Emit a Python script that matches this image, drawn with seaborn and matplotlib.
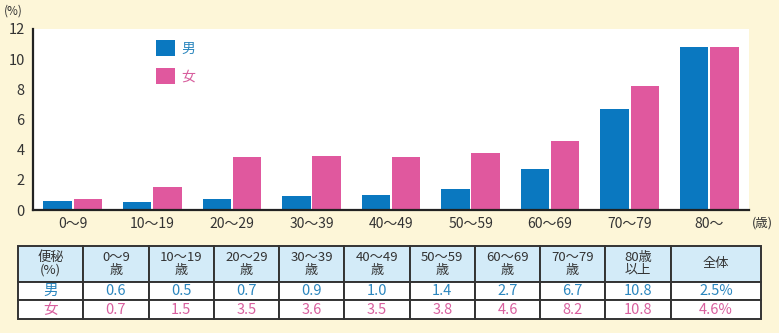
import matplotlib
matplotlib.use("Agg")
import matplotlib.pyplot as plt
import seaborn as sns
import pandas as pd

# ---- data ----
age_groups = ["0～9", "10～19", "20～29", "30～39", "40～49", "50～59", "60～69", "70～79", "80～"]
male = [0.6, 0.5, 0.7, 0.9, 1.0, 1.4, 2.7, 6.7, 10.8]
female = [0.7, 1.5, 3.5, 3.6, 3.5, 3.8, 4.6, 8.2, 10.8]
overall = ["2.5%", "4.6%"]
table_headers = ["便秘\n(%)", "0～9\n歳", "10～19\n歳", "20～29\n歳", "30～39\n歳", "40～49\n歳",
                 "50～59\n歳", "60～69\n歳", "70～79\n歳", "80歳\n以上", "全体"]
series_names = ["男", "女"]
yticks = [0, 2, 4, 6, 8, 10, 12]

BLUE = "#0a78c0"
PINK = "#e0589e"
BLUE_TXT = "#2b86be"
PINK_TXT = "#d85f9e"
BG = "#fdf6d8"
HEAD_BG = "#d3ebf8"

sns.set_theme(style="white")
plt.rcParams["font.family"] = ["Noto Sans CJK JP", "DejaVu Sans"]

df = pd.DataFrame({
    "age": age_groups * 2,
    "value": male + female,
    "sex": [series_names[0]] * len(male) + [series_names[1]] * len(female),
})

fig = plt.figure(figsize=(7.79, 3.33), dpi=100)
fig.patch.set_facecolor(BG)
ax = fig.add_axes([33 / 779, 1 - 210 / 333, (749 - 33) / 779, (210 - 29) / 333])
ax.set_facecolor("white")

sns.barplot(data=df, x="age", y="value", hue="sex", order=age_groups, hue_order=series_names,
            palette=[BLUE, PINK], saturation=1, width=0.76, gap=0.06, linewidth=0, ax=ax)

ax.set_ylim(0, 12)
ax.set_xlim(-0.5, 8.5)
ax.set_yticks(yticks)
ax.set_xlabel("")
ax.set_ylabel("")
for s in ["top", "right"]:
    ax.spines[s].set_visible(False)
for s in ["left", "bottom"]:
    ax.spines[s].set_color("#222222")
    ax.spines[s].set_linewidth(1.6)
ax.tick_params(axis="y", direction="in", length=4, width=1.4, color="#222222",
               labelsize=10.5, labelcolor="#333333", pad=6)
ax.tick_params(axis="x", which="major", length=0, labelsize=10, labelcolor="#333333", pad=5)
ax.set_xticks([i + 0.5 for i in range(len(age_groups))], minor=True)
ax.tick_params(axis="x", which="minor", direction="in", length=4, width=1.4, color="#222222")

fig.text(4 / 779, 1 - 11 / 333, "(%)", fontsize=8.5, color="#333333", va="center", ha="left")
fig.text(752 / 779, 1 - 223 / 333, "(歳)", fontsize=9, color="#333333", va="center", ha="left")

handles, labels = ax.get_legend_handles_labels()
leg = ax.legend(handles, labels, loc="upper left", bbox_to_anchor=(0.155, 1.01), frameon=False,
                handlelength=1.35, handleheight=1.45, handletextpad=0.45, labelspacing=0.85,
                fontsize=10, labelcolor=[BLUE_TXT, PINK_TXT])

# ---- table ----
tax = fig.add_axes([18 / 779, 1 - 319 / 333, (761 - 18) / 779, (319 - 246) / 333])
tax.axis("off")
rows = [table_headers,
        [series_names[0]] + [f"{v:.1f}" for v in male] + [overall[0]],
        [series_names[1]] + [f"{v:.1f}" for v in female] + [overall[1]]]
col_w = [65] * 10 + [90]
tot = sum(col_w)
col_w = [c / tot for c in col_w]
tbl = tax.table(cellText=rows, colWidths=col_w, cellLoc="center", bbox=[0, 0, 1, 1])
tbl.auto_set_font_size(False)
for (r, c), cell in tbl.get_celld().items():
    cell.set_edgecolor("#333333")
    cell.set_linewidth(1.4)
    cell.set_height(36 if r == 0 else 19)
    txt = cell.get_text()
    txt.set_fontsize(9.5)
    txt.set_linespacing(0.95)
    if r == 0:
        cell.set_facecolor(HEAD_BG)
        txt.set_color("#333333")
    else:
        cell.set_facecolor("white")
        txt.set_color(BLUE_TXT if r == 1 else PINK_TXT)
        txt.set_fontsize(10.5)

fig.savefig("out.png", dpi=100, facecolor=BG)
